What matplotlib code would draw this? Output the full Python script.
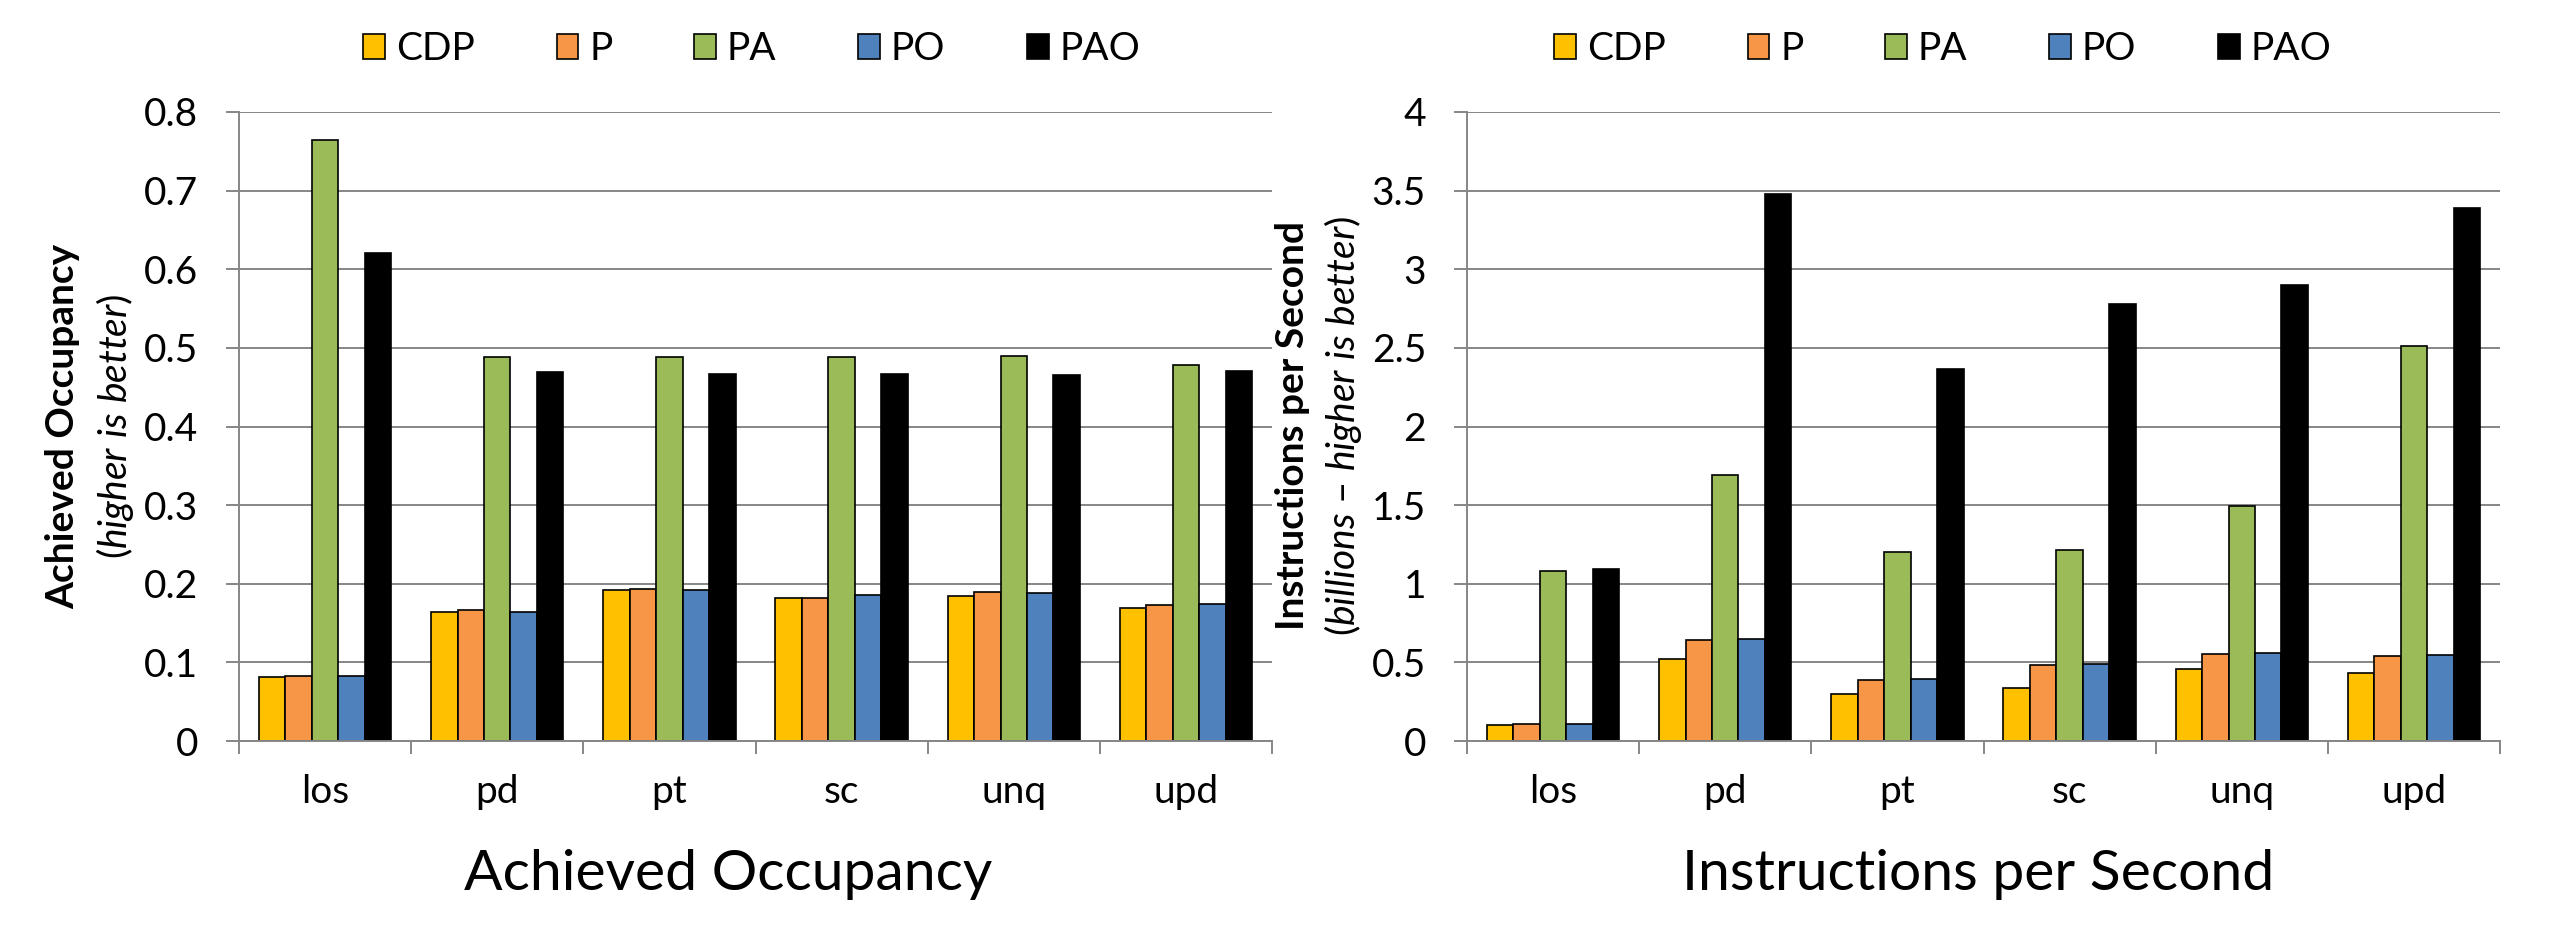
import numpy as np
import matplotlib
matplotlib.use('Agg')
import matplotlib.pyplot as plt
from matplotlib.patches import Patch

plt.rcParams['font.family'] = ['Lato', 'DejaVu Sans']
plt.rcParams['mathtext.fontset'] = 'custom'
plt.rcParams['mathtext.rm'] = 'Lato'
plt.rcParams['mathtext.it'] = 'Lato:italic'

# benchmarks and configurations
categories = ['los', 'pd', 'pt', 'sc', 'unq', 'upd']
series = ['CDP', 'P', 'PA', 'PO', 'PAO']
colors = ['#FFC000', '#F79646', '#9BBB59', '#4F81BD', '#000000']

# achieved occupancy per configuration
occ_cdp = [0.082, 0.164, 0.192, 0.182, 0.185, 0.169]
occ_p   = [0.083, 0.167, 0.193, 0.182, 0.189, 0.173]
occ_pa  = [0.764, 0.489, 0.488, 0.488, 0.490, 0.478]
occ_po  = [0.083, 0.164, 0.192, 0.186, 0.188, 0.174]
occ_pao = [0.621, 0.469, 0.467, 0.467, 0.466, 0.471]

# instructions per second (billions)
ips_cdp = [0.099, 0.520, 0.301, 0.338, 0.459, 0.435]
ips_p   = [0.111, 0.641, 0.388, 0.483, 0.551, 0.538]
ips_pa  = [1.084, 1.693, 1.200, 1.216, 1.493, 2.511]
ips_po  = [0.111, 0.646, 0.393, 0.488, 0.562, 0.546]
ips_pao = [1.095, 3.476, 2.368, 2.780, 2.901, 3.389]

W, H = 2559, 925
fig = plt.figure(figsize=(W / 100, H / 100), dpi=100)

grid_col = '#868686'
fs = 28


def draw(ax, data, ymax, ystep, yfmt):
    n = len(series)
    bw = 1 / (n + 1.5)
    x = np.arange(len(categories)) + 0.5
    for j, (vals, c) in enumerate(zip(data, colors)):
        ax.bar(x + (j - (n - 1) / 2) * bw, vals, bw, color=c,
               edgecolor='black', linewidth=1.2, zorder=3)
    ax.set_xlim(0, len(categories))
    ax.set_ylim(0, ymax)
    yt = np.arange(0, ymax + ystep / 2, ystep)
    ax.set_yticks(yt)
    ax.set_yticklabels([yfmt(v) for v in yt], fontsize=fs)
    ax.yaxis.grid(True, color=grid_col, linewidth=1.4, zorder=0)
    ax.set_xticks(np.arange(len(categories) + 1))
    ax.set_xticklabels([])
    ax.set_xticks(x, minor=True)
    ax.set_xticklabels(categories, minor=True, fontsize=fs)
    ax.tick_params(axis='x', which='major', length=9.5, width=1.4,
                   color=grid_col, direction='out')
    ax.tick_params(axis='x', which='minor', length=0, pad=24)
    ax.tick_params(axis='y', length=9.5, width=1.4, color=grid_col, pad=20)
    for s in ['top', 'right']:
        ax.spines[s].set_visible(False)
    for s in ['left', 'bottom']:
        ax.spines[s].set_color(grid_col)
        ax.spines[s].set_linewidth(1.4)
        ax.spines[s].set_zorder(4)


def fmt_occ(v):
    return '0' if v == 0 else ('%.1f' % v)


def fmt_ips(v):
    return ('%g' % v)


ax1 = fig.add_axes([239 / W, 1 - 741 / H, (1272 - 239) / W, (741 - 112) / H])
draw(ax1, [occ_cdp, occ_p, occ_pa, occ_po, occ_pao], 0.8, 0.1, fmt_occ)

ax2 = fig.add_axes([1467 / W, 1 - 741 / H, (2500 - 1467) / W, (741 - 112) / H])
draw(ax2, [ips_cdp, ips_p, ips_pa, ips_po, ips_pao], 4, 0.5, fmt_ips)

# y labels (two lines each)
yc = 1 - 426 / H
fig.text(63 / W, yc, 'Achieved Occupancy', rotation=90, ha='center', va='center',
         fontsize=fs, fontweight='bold')
fig.text(115 / W, yc, r'($\mathit{higher\ is\ better}$)', rotation=90,
         ha='center', va='center', fontsize=fs)
fig.text(1292 / W, yc, 'Instructions per Second', rotation=90, ha='center',
         va='center', fontsize=fs, fontweight='bold')
fig.text(1343 / W, yc, r'($\mathit{billions}$ – $\mathit{higher\ is\ better}$)',
         rotation=90, ha='center', va='center', fontsize=fs)

# titles under each chart
fig.text(728 / W, 1 - 875 / H, 'Achieved Occupancy', ha='center', va='center',
         fontsize=41, fontweight='normal', color='black')
fig.text(1978 / W, 1 - 875 / H, 'Instructions per Second', ha='center',
         va='center', fontsize=41, fontweight='normal', color='black')

handles = [Patch(facecolor=c, edgecolor='black', linewidth=1.2) for c in colors]
for cx in [752, 1943]:
    fig.legend(handles, series, loc='center', bbox_to_anchor=(cx / W, 1 - 49 / H),
               ncol=5, frameon=False, fontsize=fs, handlelength=0.56,
               handleheight=0.62, handletextpad=0.28, columnspacing=2.1)

fig.savefig('out.png', dpi=100)
